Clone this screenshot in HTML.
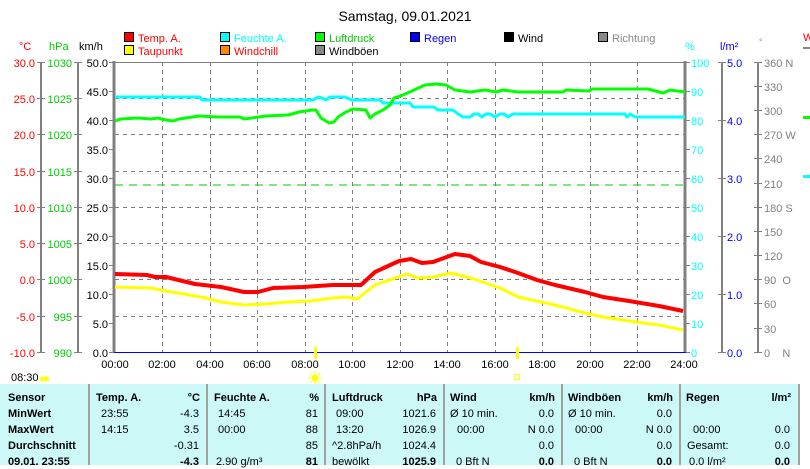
<!DOCTYPE html>
<html><head><meta charset="utf-8"><style>
body{margin:0;width:810px;height:465px;overflow:hidden;background:#fff;font-family:"Liberation Sans",sans-serif;font-size:11px;position:relative}
.t{position:absolute;white-space:nowrap;line-height:13px}
.r{text-align:right}
.b{font-weight:bold}
#tbl{position:absolute;left:0;top:384px;width:800px;height:81px;background:#ccf8f8}
.dv{position:absolute;top:384px;width:2px;height:81px;background:#a0a0a0}
</style></head><body>
<svg width="810" height="465" style="position:absolute;left:0;top:0" font-family="Liberation Sans, sans-serif" font-size="11">
<text x="405" y="21" text-anchor="middle" font-size="14">Samstag, 09.01.2021</text>
<!-- legend -->
<g stroke="#000" stroke-width="1">
<rect x="124.5" y="32.5" width="9" height="9" fill="#f00"/><rect x="124.5" y="45.5" width="9" height="9" fill="#ff0"/>
<rect x="220.5" y="32.5" width="9" height="9" fill="#0ff"/><rect x="220.5" y="45.5" width="9" height="9" fill="#f80"/>
<rect x="315.5" y="32.5" width="9" height="9" fill="#0f0"/><rect x="315.5" y="45.5" width="9" height="9" fill="#888"/>
<rect x="410.5" y="32.5" width="9" height="9" fill="#00f"/><rect x="504.5" y="32.5" width="9" height="9" fill="#000"/>
<rect x="598.5" y="32.5" width="9" height="9" fill="#888"/>
</g>
<g font-size="11">
<text x="138" y="42" fill="#f00">Temp. A.</text><text x="138" y="55" fill="#f00">Taupunkt</text>
<text x="234" y="42" fill="#0ff">Feuchte A.</text><text x="234" y="55" fill="#f00">Windchill</text>
<text x="329" y="42" fill="#0c0">Luftdruck</text><text x="329" y="55">Windböen</text>
<text x="424" y="42" fill="#00f">Regen</text><text x="518" y="42">Wind</text>
<text x="612" y="42" fill="#888">Richtung</text>
<text x="19" y="50" fill="#f00">°C</text><text x="49" y="50" fill="#0c0">hPa</text><text x="79" y="50">km/h</text>
<text x="685" y="50" fill="#0ff">%</text><text x="720" y="50" fill="#00f">l/m²</text><text x="759" y="45" fill="#888" font-size="9">°</text>
<text x="803" y="41" fill="#f00">W</text>
</g>
<rect x="803" y="47" width="7" height="2" fill="#888"/>
<rect x="803" y="116" width="7" height="3" fill="#0f0"/>
<rect x="803" y="175" width="7" height="3" fill="#0ff"/>
<!-- grid -->
<g stroke="#808080" stroke-dasharray="4,4" stroke-width="1">
<line x1="115" x2="685" y1="98.5" y2="98.5"/><line x1="115" x2="685" y1="134.5" y2="134.5"/><line x1="115" x2="685" y1="171.5" y2="171.5"/><line x1="115" x2="685" y1="207.5" y2="207.5"/><line x1="115" x2="685" y1="243.5" y2="243.5"/><line x1="115" x2="685" y1="279.5" y2="279.5"/><line x1="115" x2="685" y1="316.5" y2="316.5"/>
<line x1="162.5" x2="162.5" y1="62" y2="352"/><line x1="210.5" x2="210.5" y1="62" y2="352"/><line x1="257.5" x2="257.5" y1="62" y2="352"/><line x1="305.5" x2="305.5" y1="62" y2="352"/><line x1="352.5" x2="352.5" y1="62" y2="352"/><line x1="400.5" x2="400.5" y1="62" y2="352"/><line x1="447.5" x2="447.5" y1="62" y2="352"/><line x1="495.5" x2="495.5" y1="62" y2="352"/><line x1="542.5" x2="542.5" y1="62" y2="352"/><line x1="590.5" x2="590.5" y1="62" y2="352"/><line x1="637.5" x2="637.5" y1="62" y2="352"/>
</g>
<line x1="115" x2="685" y1="62.5" y2="62.5" stroke="#808080"/>
<line x1="115" x2="685" y1="185" y2="185" stroke="#0c0" stroke-dasharray="8,6" stroke-width="1"/>
<!-- axes -->
<g stroke="#808080" stroke-width="2">
<line x1="41" x2="41" y1="62" y2="352"/><line x1="78" x2="78" y1="62" y2="352"/>
<line x1="114" x2="114" y1="61" y2="353" stroke-width="3"/><line x1="685" x2="685" y1="61" y2="353" stroke-width="3"/>
<line x1="722" x2="722" y1="62" y2="352"/><line x1="758" x2="758" y1="62" y2="352"/>
</g>
<line x1="114" x2="686" y1="352.5" y2="352.5" stroke="#00f"/>
<g stroke="#808080" stroke-width="1">
<path d="M37 62.5h8M37 98.5h8M37 134.5h8M37 171.5h8M37 207.5h8M37 243.5h8M37 279.5h8M37 316.5h8M37 352.5h8"/>
<path d="M74 62.5h8M74 98.5h8M74 134.5h8M74 171.5h8M74 207.5h8M74 243.5h8M74 279.5h8M74 316.5h8M74 352.5h8"/>
<path d="M109 62.5h5M109 91.5h5M109 120.5h5M109 149.5h5M109 178.5h5M109 207.5h5M109 236.5h5M109 265.5h5M109 294.5h5M109 323.5h5M109 352.5h5"/>
<path d="M686 62.5h4M686 91.5h4M686 120.5h4M686 149.5h4M686 178.5h4M686 207.5h4M686 236.5h4M686 265.5h4M686 294.5h4M686 323.5h4M686 352.5h4"/>
<path d="M718 62.5h8M718 120.5h8M718 178.5h8M718 236.5h8M718 294.5h8M718 352.5h8"/>
<path d="M754 62.5h8M754 86.5h8M754 110.5h8M754 134.5h8M754 158.5h8M754 183.5h8M754 207.5h8M754 231.5h8M754 255.5h8M754 279.5h8M754 303.5h8M754 328.5h8M754 352.5h8"/>
</g>
<g text-anchor="end" fill="#f00">
<text x="35" y="67">30.0</text><text x="35" y="103">25.0</text><text x="35" y="139">20.0</text><text x="35" y="176">15.0</text><text x="35" y="212">10.0</text><text x="35" y="248">5.0</text><text x="35" y="284">0.0</text><text x="35" y="321">-5.0</text><text x="35" y="357">-10.0</text>
</g>
<g text-anchor="end" fill="#0c0">
<text x="72" y="67">1030</text><text x="72" y="103">1025</text><text x="72" y="139">1020</text><text x="72" y="176">1015</text><text x="72" y="212">1010</text><text x="72" y="248">1005</text><text x="72" y="284">1000</text><text x="72" y="321">995</text><text x="72" y="357">990</text>
</g>
<g text-anchor="end">
<text x="108" y="67">50.0</text><text x="108" y="96">45.0</text><text x="108" y="125">40.0</text><text x="108" y="154">35.0</text><text x="108" y="183">30.0</text><text x="108" y="212">25.0</text><text x="108" y="241">20.0</text><text x="108" y="270">15.0</text><text x="108" y="299">10.0</text><text x="108" y="328">5.0</text><text x="108" y="357">0.0</text>
</g>
<g fill="#0ff">
<text x="691" y="67">100</text><text x="691" y="96">90</text><text x="691" y="125">80</text><text x="691" y="154">70</text><text x="691" y="183">60</text><text x="691" y="212">50</text><text x="691" y="241">40</text><text x="691" y="270">30</text><text x="691" y="299">20</text><text x="691" y="328">10</text><text x="691" y="357">0</text>
</g>
<g fill="#00f">
<text x="727" y="67">5.0</text><text x="727" y="125">4.0</text><text x="727" y="183">3.0</text><text x="727" y="241">2.0</text><text x="727" y="299">1.0</text><text x="727" y="357">0.0</text>
</g>
<g fill="#808080">
<text x="764" y="67">360 N</text><text x="764" y="91">330</text><text x="764" y="115">300</text><text x="764" y="139">270 W</text><text x="764" y="163">240</text><text x="764" y="188">210</text><text x="764" y="212">180 S</text><text x="764" y="236">150</text><text x="764" y="260">120</text><text x="764" y="284">90&#160;&#160;O</text><text x="764" y="308">60</text><text x="764" y="333">30</text><text x="764" y="357">0&#160;&#160;&#160;&#160;N</text>
</g>
<g text-anchor="middle">
<text x="115" y="368">00:00</text><text x="162" y="368">02:00</text><text x="210" y="368">04:00</text><text x="257" y="368">06:00</text><text x="305" y="368">08:00</text><text x="352" y="368">10:00</text><text x="400" y="368">12:00</text><text x="447" y="368">14:00</text><text x="495" y="368">16:00</text><text x="542" y="368">18:00</text><text x="590" y="368">20:00</text><text x="637" y="368">22:00</text><text x="684" y="368">24:00</text>
</g>
<!-- series -->
<g fill="none" stroke-width="3" stroke-linejoin="round">
<polyline stroke="#0ff" points="115,97 200,97 202,100 313,100 318,97 322,98 326,100 330,97 345,97 352,100 380,100 383,103 410,103 413,107 434,107 438,110 453,110 458,114 463,117 470,117 474,114 478,114 482,117 486,114 490,114 495,117 500,114 504,114 508,117 513,114 625,114 627,117 630,114 635,117 685,117"/>
<polyline stroke="#0f0" points="115,121 121,119 138,118 151,119 158,118 166,120 173,121 179,119 199,116 218,117 240,117 244,119 266,116 288,115 299,112 312,110 316,110 321,118 329,123 334,122 338,117 346,112 353,109 366,110 370,118 375,114 383,110 390,105 394,98 403,95 414,90 425,85 436,84 446,85 455,90 470,92 485,90 496,92 503,90 518,92 563,92 566,90 589,91 592,89 648,89 663,93 670,90 685,92"/>
<polyline stroke="#ff0" points="115,287 151,288 166,291 184,294 206,298 221,302 244,305 266,304 288,302 310,301 333,298 347,297 357,299 375,285 407,274 418,278 433,277 451,273 474,279 500,288 518,297 555,305 581,312 603,317 629,321 659,325 683,330"/>
<polyline stroke="#f00" stroke-width="4" points="115,274 147,275 155,277 166,277 195,284 221,287 244,292 258,292 273,288 303,287 333,285 361,285 375,272 399,261 411,259 422,263 433,262 455,254 470,256 481,262 500,267 518,273 537,280 555,285 585,292 603,297 629,301 659,306 683,311"/>
</g>
<!-- sun markers -->
<rect x="314" y="347" width="3" height="12" fill="#ff0"/>
<rect x="516" y="347" width="3" height="12" fill="#ff0"/>
<circle cx="315" cy="378" r="3.5" fill="#ff0"/>
<g stroke="#ff0" stroke-width="1"><path d="M315 371v3M315 382v3M308 378h3M319 378h3M310 373l2 2M318 381l2 2M310 383l2-2M318 375l2-2"/></g>
<rect x="514.5" y="374.5" width="5" height="5" fill="none" stroke="#ff0"/>
<path d="M40 381 a3 3 0 0 1 4 -4 a3 3 0 0 1 5 2 l0 2 z" fill="#ff0"/>
<text x="11" y="381">08:30</text>
</svg>
<div id="tbl"></div>
<div class="dv" style="left:88px"></div><div class="dv" style="left:206px"></div><div class="dv" style="left:324px"></div><div class="dv" style="left:443px"></div><div class="dv" style="left:561px"></div><div class="dv" style="left:679px"></div><div class="dv" style="left:798px"></div>
<div class="t b" style="left:8px;top:392px">Sensor</div><div class="t b" style="left:8px;top:408px">MinWert</div><div class="t b" style="left:8px;top:424px">MaxWert</div><div class="t b" style="left:8px;top:440px">Durchschnitt</div><div class="t b" style="left:8px;top:456px">09.01. 23:55</div>
<div class="t b" style="left:96px;top:392px">Temp. A.</div><div class="t b r" style="left:160px;width:40px;top:392px">°C</div>
<div class="t" style="left:101px;top:408px">23:55</div><div class="t r" style="left:160px;width:39px;top:408px">-4.3</div>
<div class="t" style="left:101px;top:424px">14:15</div><div class="t r" style="left:160px;width:39px;top:424px">3.5</div>
<div class="t r" style="left:160px;width:39px;top:440px">-0.31</div><div class="t b r" style="left:160px;width:39px;top:456px">-4.3</div>
<div class="t b" style="left:214px;top:392px">Feuchte A.</div><div class="t b r" style="left:280px;width:39px;top:392px">%</div>
<div class="t" style="left:218px;top:408px">14:45</div><div class="t r" style="left:280px;width:38px;top:408px">81</div>
<div class="t" style="left:218px;top:424px">00:00</div><div class="t r" style="left:280px;width:38px;top:424px">88</div>
<div class="t r" style="left:280px;width:38px;top:440px">85</div><div class="t" style="left:216px;top:456px">2.90 g/m³</div><div class="t b r" style="left:280px;width:38px;top:456px">81</div>
<div class="t b" style="left:332px;top:392px">Luftdruck</div><div class="t b r" style="left:400px;width:37px;top:392px">hPa</div>
<div class="t" style="left:336px;top:408px">09:00</div><div class="t r" style="left:390px;width:46px;top:408px">1021.6</div>
<div class="t" style="left:336px;top:424px">13:20</div><div class="t r" style="left:390px;width:46px;top:424px">1026.9</div>
<div class="t" style="left:332px;top:440px">^2.8hPa/h</div><div class="t r" style="left:390px;width:46px;top:440px">1024.4</div>
<div class="t" style="left:332px;top:456px">bewölkt</div><div class="t b r" style="left:390px;width:46px;top:456px">1025.9</div>
<div class="t b" style="left:450px;top:392px">Wind</div><div class="t b r" style="left:500px;width:55px;top:392px">km/h</div>
<div class="t" style="left:450px;top:408px">Ø 10 min.</div><div class="t r" style="left:500px;width:54px;top:408px">0.0</div>
<div class="t" style="left:457px;top:424px">00:00</div><div class="t r" style="left:500px;width:54px;top:424px">N 0.0</div>
<div class="t r" style="left:500px;width:54px;top:440px">0.0</div><div class="t" style="left:456px;top:456px">0 Bft N</div><div class="t b r" style="left:500px;width:54px;top:456px">0.0</div>
<div class="t b" style="left:568px;top:392px">Windböen</div><div class="t b r" style="left:620px;width:53px;top:392px">km/h</div>
<div class="t" style="left:568px;top:408px">Ø 10 min.</div><div class="t r" style="left:620px;width:52px;top:408px">0.0</div>
<div class="t" style="left:575px;top:424px">00:00</div><div class="t r" style="left:620px;width:52px;top:424px">N 0.0</div>
<div class="t r" style="left:620px;width:52px;top:440px">0.0</div><div class="t" style="left:574px;top:456px">0 Bft N</div><div class="t b r" style="left:620px;width:52px;top:456px">0.0</div>
<div class="t b" style="left:686px;top:392px">Regen</div><div class="t b r" style="left:740px;width:51px;top:392px">l/m²</div>
<div class="t" style="left:693px;top:424px">00:00</div><div class="t r" style="left:740px;width:50px;top:424px">0.0</div>
<div class="t" style="left:687px;top:440px">Gesamt:</div><div class="t r" style="left:740px;width:50px;top:440px">0.0</div>
<div class="t" style="left:689px;top:456px">0.0 l/m²</div><div class="t b r" style="left:740px;width:50px;top:456px">0.0</div>
</body></html>
